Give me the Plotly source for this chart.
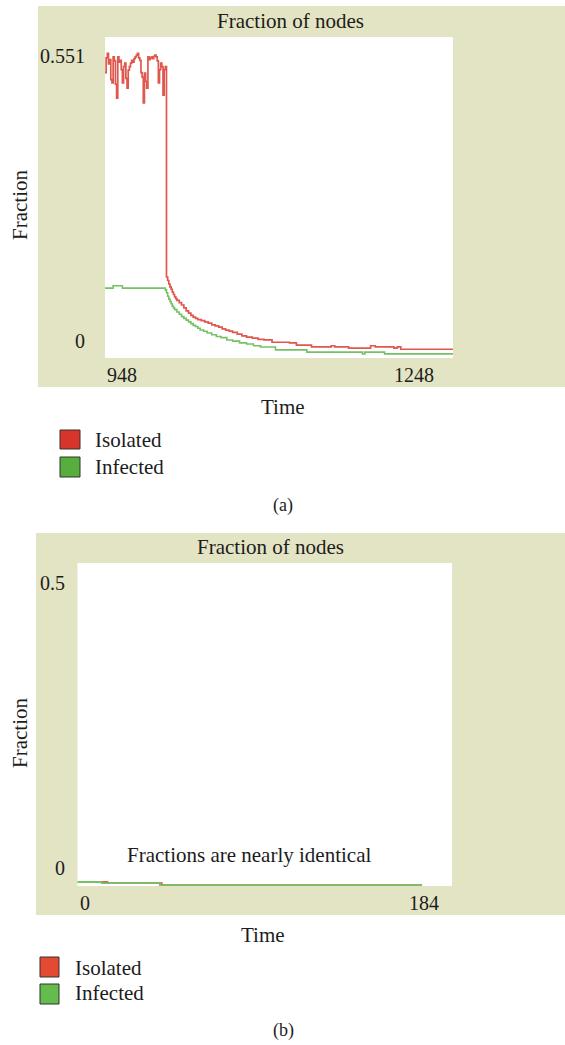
import plotly.graph_objects as go

W, H = 565, 1045

# ---------------- data: panel (a) ----------------
a_iso_t = list(range(948, 1001)) + [1001, 1002, 1003, 1004, 1005, 1006, 1007, 1008, 1009, 1010,
    1012, 1014, 1016, 1018, 1020, 1022, 1024, 1026, 1028, 1031, 1034, 1037, 1040, 1043, 1046,
    1049, 1052, 1055, 1058, 1062, 1066, 1070, 1075, 1080, 1085, 1092, 1107, 1113, 1126, 1143,
    1146, 1158, 1177, 1181, 1197, 1200, 1203, 1248]
a_iso_v = [0.490, 0.515, 0.523, 0.505, 0.512, 0.478, 0.472, 0.517, 0.510, 0.470,
           0.446, 0.517, 0.508, 0.511, 0.495, 0.472, 0.500, 0.506, 0.480, 0.463,
           0.494, 0.500, 0.506, 0.511, 0.508, 0.514, 0.517, 0.520, 0.523, 0.515,
           0.511, 0.490, 0.482, 0.438, 0.489, 0.475, 0.463, 0.517, 0.512, 0.515,
           0.517, 0.514, 0.518, 0.520, 0.517, 0.510, 0.472, 0.495, 0.506, 0.500,
           0.451, 0.495, 0.500,
           0.139, 0.133, 0.127, 0.122, 0.118, 0.113, 0.109, 0.105, 0.102, 0.099,
           0.095, 0.091, 0.086, 0.081, 0.077, 0.073, 0.070, 0.068, 0.066, 0.064,
           0.062, 0.060, 0.057, 0.055, 0.053, 0.050, 0.048, 0.046, 0.044, 0.041,
           0.038, 0.036, 0.034, 0.032, 0.031, 0.027, 0.026, 0.022, 0.019, 0.021,
           0.019, 0.017, 0.021, 0.019, 0.017, 0.019, 0.015, 0.015]

a_inf_t = [948, 955, 963, 1000, 1001, 1002, 1003, 1004, 1005, 1006, 1007, 1008, 1010, 1012,
           1014, 1016, 1018, 1020, 1022, 1024, 1026, 1028, 1030, 1033, 1036, 1040, 1044, 1048,
           1053, 1058, 1064, 1070, 1076, 1082, 1095, 1122, 1170, 1172, 1189, 1248]
a_inf_v = [0.120, 0.124, 0.120, 0.117, 0.112, 0.106, 0.101, 0.097, 0.093, 0.089, 0.086,
           0.083, 0.079, 0.075, 0.071, 0.068, 0.065, 0.062, 0.059, 0.056, 0.054, 0.051,
           0.048, 0.046, 0.043, 0.040, 0.037, 0.035, 0.031, 0.029, 0.026, 0.024, 0.021,
           0.019, 0.014, 0.010, 0.007, 0.010, 0.007, 0.007]

a_xticks = [948, 1248]
a_yticks = [0, 0.551]

# ---------------- data: panel (b) ----------------
b_iso_t = [0, 16, 45, 184]
b_iso_v = [0.0062, 0.0046, 0.0015, 0.0015]
b_inf_t = [0, 13, 44, 184]
b_inf_v = [0.0062, 0.0046, 0.0015, 0.0015]

b_xticks = [0, 184]
b_yticks = [0, 0.5]

series_names = ["Isolated", "Infected"]

# ---------------- style ----------------
FONT = "Liberation Serif"
TXT = "#1c1c1c"
BEIGE = "#e3e4c3"
RED_LINE = "#e0574d"
GREEN_LINE = "#76c165"


def px(x):
    return x / W


def py(y):
    return 1 - y / H


fig = go.Figure()

fig.add_trace(go.Scatter(x=a_iso_t, y=a_iso_v, mode="lines", line=dict(color=RED_LINE, width=1.7, shape="hv"),
                         xaxis="x", yaxis="y", showlegend=False, name=series_names[0]))
fig.add_trace(go.Scatter(x=a_inf_t, y=a_inf_v, mode="lines", line=dict(color=GREEN_LINE, width=1.6, shape="hv"),
                         xaxis="x", yaxis="y", showlegend=False, name=series_names[1]))
fig.add_trace(go.Scatter(x=b_iso_t, y=b_iso_v, mode="lines", line=dict(color=RED_LINE, width=1.8, shape="hv"),
                         xaxis="x2", yaxis="y2", showlegend=False, name=series_names[0]))
fig.add_trace(go.Scatter(x=b_inf_t, y=b_inf_v, mode="lines", line=dict(color=GREEN_LINE, width=1.8, shape="hv"),
                         xaxis="x2", yaxis="y2", showlegend=False, name=series_names[1]))

ax_common = dict(showgrid=False, zeroline=False, showticklabels=False, showline=False, ticks="", fixedrange=True)

shapes = [
    dict(type="rect", xref="paper", yref="paper", x0=px(38), x1=px(565), y0=py(387), y1=py(6),
         fillcolor=BEIGE, line=dict(width=0), layer="below"),
    dict(type="rect", xref="paper", yref="paper", x0=px(36), x1=px(565), y0=py(915), y1=py(533),
         fillcolor=BEIGE, line=dict(width=0), layer="below"),
    dict(type="rect", xref="paper", yref="paper", x0=px(105), x1=px(453), y0=py(358), y1=py(37),
         fillcolor="white", line=dict(width=0), layer="below"),
    dict(type="rect", xref="paper", yref="paper", x0=px(77.5), x1=px(452), y0=py(886), y1=py(563),
         fillcolor="white", line=dict(width=0), layer="below"),
    # legend swatches
    dict(type="rect", xref="paper", yref="paper", x0=px(60), x1=px(80), y0=py(449), y1=py(430),
         fillcolor="#d8342c", line=dict(color="#333333", width=1)),
    dict(type="rect", xref="paper", yref="paper", x0=px(60), x1=px(80), y0=py(477), y1=py(457),
         fillcolor="#57ae3d", line=dict(color="#333333", width=1)),
    dict(type="rect", xref="paper", yref="paper", x0=px(40), x1=px(59), y0=py(977), y1=py(957),
         fillcolor="#e44a32", line=dict(color="#333333", width=1)),
    dict(type="rect", xref="paper", yref="paper", x0=px(40), x1=px(59), y0=py(1004), y1=py(984),
         fillcolor="#63bc4b", line=dict(color="#333333", width=1)),
]


def ann(text, x, y, xanchor="center", yanchor="middle", xref="paper", yref="paper", textangle=0,
        xshift=0, yshift=0, size=21):
    return dict(text=text, x=x, y=y, xref=xref, yref=yref, xanchor=xanchor, yanchor=yanchor,
                showarrow=False, textangle=textangle, xshift=xshift, yshift=yshift,
                font=dict(family=FONT, size=size, color=TXT))


annotations = [
    # panel (a)
    ann("Fraction of nodes", px(290), py(21)),
    ann(f"{a_yticks[1]:g}", px(87), a_yticks[1], xanchor="right", yref="y", yshift=-19, size=20),
    ann(f"{a_yticks[0]:g}", px(87), a_yticks[0], xanchor="right", yref="y", yshift=17, size=20),
    ann(str(a_xticks[0]), a_xticks[0], py(375), xanchor="left", xref="x", size=20),
    ann(str(a_xticks[1]), a_xticks[1], py(375), xanchor="right", xref="x", xshift=-17, size=20),
    ann("Fraction", px(20), py(205), textangle=-90),
    ann("Time", px(283), py(407)),
    ann(series_names[0], px(93), py(440), xanchor="left"),
    ann(series_names[1], px(93), py(467), xanchor="left"),
    ann("(a)", px(283), py(506), size=18),
    # panel (b)
    ann("Fraction of nodes", px(270), py(547)),
    ann(f"{b_yticks[1]:g}", px(67), b_yticks[1], xanchor="right", yref="y2", yshift=-20, size=20),
    ann(f"{b_yticks[0]:g}", px(67), b_yticks[0], xanchor="right", yref="y2", yshift=18, size=20),
    ann(str(b_xticks[0]), b_xticks[0], py(903), xanchor="left", xref="x2", size=20),
    ann(str(b_xticks[1]), b_xticks[1], py(903), xanchor="center", xref="x2", xshift=2, size=20),
    ann("Fraction", px(20), py(733), textangle=-90),
    ann("Time", px(263), py(935)),
    ann("Fractions are nearly identical", px(249), py(855)),
    ann(series_names[0], px(73), py(968), xanchor="left"),
    ann(series_names[1], px(73), py(993), xanchor="left"),
    ann("(b)", px(283), py(1030), size=18),
]

fig.update_layout(
    width=W, height=H,
    margin=dict(l=0, r=0, t=0, b=0),
    paper_bgcolor="white",
    plot_bgcolor="rgba(0,0,0,0)",
    showlegend=False,
    xaxis=dict(domain=[px(105), px(453)], range=[948, 1248], anchor="y", **ax_common),
    yaxis=dict(domain=[py(358), py(37)], range=[0, 0.551], anchor="x", **ax_common),
    xaxis2=dict(domain=[px(77.5), px(452)], range=[0, 200], anchor="y2", **ax_common),
    yaxis2=dict(domain=[py(886), py(563)], range=[0, 0.5], anchor="x2", **ax_common),
    shapes=shapes,
    annotations=annotations,
)

fig.write_html("out.html")
